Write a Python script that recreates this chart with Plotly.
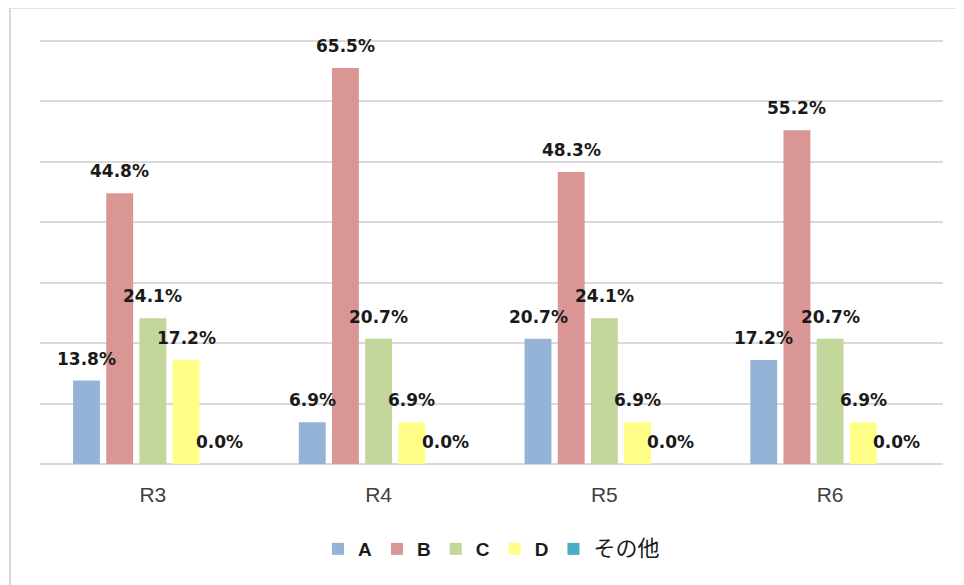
import plotly.graph_objects as go

years = ["R3", "R4", "R5", "R6"]
series_names = ["A", "B", "C", "D", "その他"]
vals_a = [13.8, 6.9, 20.7, 17.2]
vals_b = [44.8, 65.5, 48.3, 55.2]
vals_c = [24.1, 20.7, 24.1, 20.7]
vals_d = [17.2, 6.9, 6.9, 6.9]
vals_other = [0.0, 0.0, 0.0, 0.0]

colors = ["#95B3D7", "#D99694", "#C3D69B", "#FFFF88", "#4BACC6"]

all_vals = [vals_a, vals_b, vals_c, vals_d, vals_other]

bar_gap = 0.265
group_gap = 0.19

fig = go.Figure()
for name, vals, col in zip(series_names, all_vals, colors):
    if name == "その他":
        label = "<span style='font-size:22px'>その他</span>"
    else:
        label = "<b>" + name + "</b>"
    fig.add_trace(
        go.Bar(
            name=label,
            x=years,
            y=vals,
            marker=dict(color=col, line=dict(width=0)),
        )
    )

# value labels sit a little above each bar, like the original
group_w = 1 - bar_gap
slot = group_w / len(series_names)
annotations = []
for k, vals in enumerate(all_vals):
    off = -group_w / 2 + slot * (k + 0.5)
    for i, v in enumerate(vals):
        annotations.append(
            dict(
                x=i + off,
                y=v,
                xref="x",
                yref="y",
                text="<b>%.1f%%</b>" % v,
                showarrow=False,
                yanchor="bottom",
                yshift=10,
                font=dict(size=17, color="#1a1a1a", family="DejaVu Sans"),
            )
        )

fig.update_layout(
    width=956,
    height=577,
    margin=dict(l=32, r=21, t=31, b=121),
    plot_bgcolor="white",
    paper_bgcolor="white",
    barmode="group",
    bargap=bar_gap,
    bargroupgap=group_gap,
    font=dict(family="Liberation Sans, Noto Sans CJK JP", color="#333333"),
    annotations=annotations,
    legend=dict(
        orientation="h",
        x=0.5,
        xanchor="center",
        y=-0.2,
        yanchor="middle",
        font=dict(size=19, color="#1a1a1a", family="Liberation Sans, Noto Sans CJK JP"),
    ),
    xaxis=dict(
        showgrid=False,
        showline=False,
        ticks="outside",
        ticklen=12,
        tickcolor="rgba(0,0,0,0)",
        tickfont=dict(size=21, color="#404040", family="Liberation Sans"),
    ),
    yaxis=dict(
        range=[0, 70.3],
        dtick=10,
        showgrid=True,
        gridcolor="#D9D9D9",
        gridwidth=2,
        zeroline=True,
        zerolinecolor="#D9D9D9",
        zerolinewidth=2,
        showticklabels=False,
    ),
    shapes=[
        dict(
            type="rect",
            xref="paper",
            yref="paper",
            x0=-0.0332,
            x1=1.021,
            y0=-0.32,
            y1=1.0733,
            line=dict(color="#D9D9D9", width=2),
            layer="below",
        )
    ],
)

fig.write_html("out.html")
